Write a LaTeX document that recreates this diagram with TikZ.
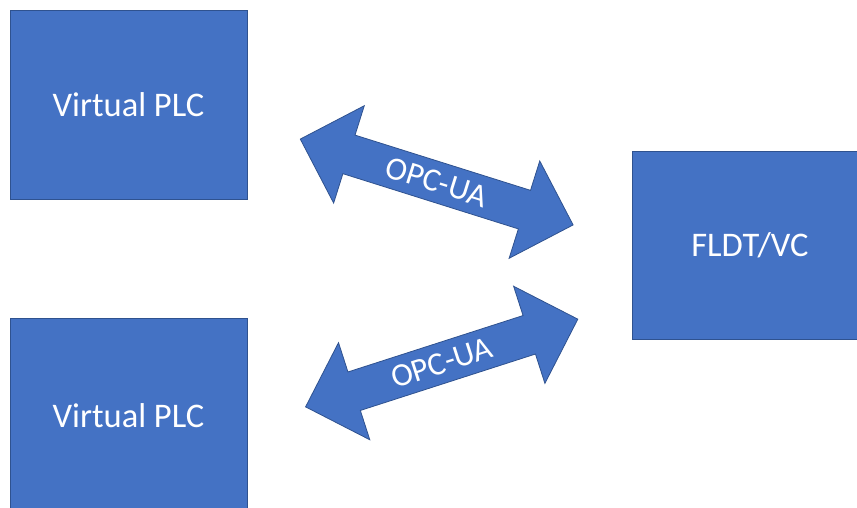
\documentclass[tikz,border=0pt]{standalone}
\usepackage{fontspec}
\setmainfont{Carlito}
\usetikzlibrary{shapes.arrows}
\definecolor{boxblue}{HTML}{4472C4}
\definecolor{edgeblue}{HTML}{2F528F}
\tikzset{
  block/.style={rectangle, fill=boxblue, draw=edgeblue, line width=0.8pt,
    text=white, font=\fontsize{34.5}{41}\selectfont, inner sep=0pt},
  link/.style={double arrow, fill=boxblue, draw=edgeblue, line width=0.8pt,
    text=white, font=\fontsize{32.5}{38}\selectfont,
    minimum height=286pt, minimum width=102pt,
    double arrow head extend=26pt, double arrow tip angle=90,
    inner xsep=4pt, inner ysep=6pt}
}
\begin{document}
\begin{tikzpicture}[x=1pt, y=-1pt]
  \useasboundingbox (0,0) rectangle (857,507);
  \fill[white] (0,0) rectangle (857,507);
  % controllers and the visualisation host
  \node[block, minimum width=237pt, minimum height=189pt] (plcA) at (128.5,104.5) {Virtual PLC};
  \node[block, minimum width=237pt, minimum height=196pt] (plcB) at (128.5,416) {Virtual PLC};
  \node[block, minimum width=236pt, minimum height=188pt] (host) at (750,245) {FLDT/VC};
  % OPC-UA links
  \node[link, rotate=-17.47] (linkA) at (436.7,182) {OPC-UA};
  \node[link, rotate=17.86] (linkB) at (441.7,363) {OPC-UA};
\end{tikzpicture}
\end{document}
